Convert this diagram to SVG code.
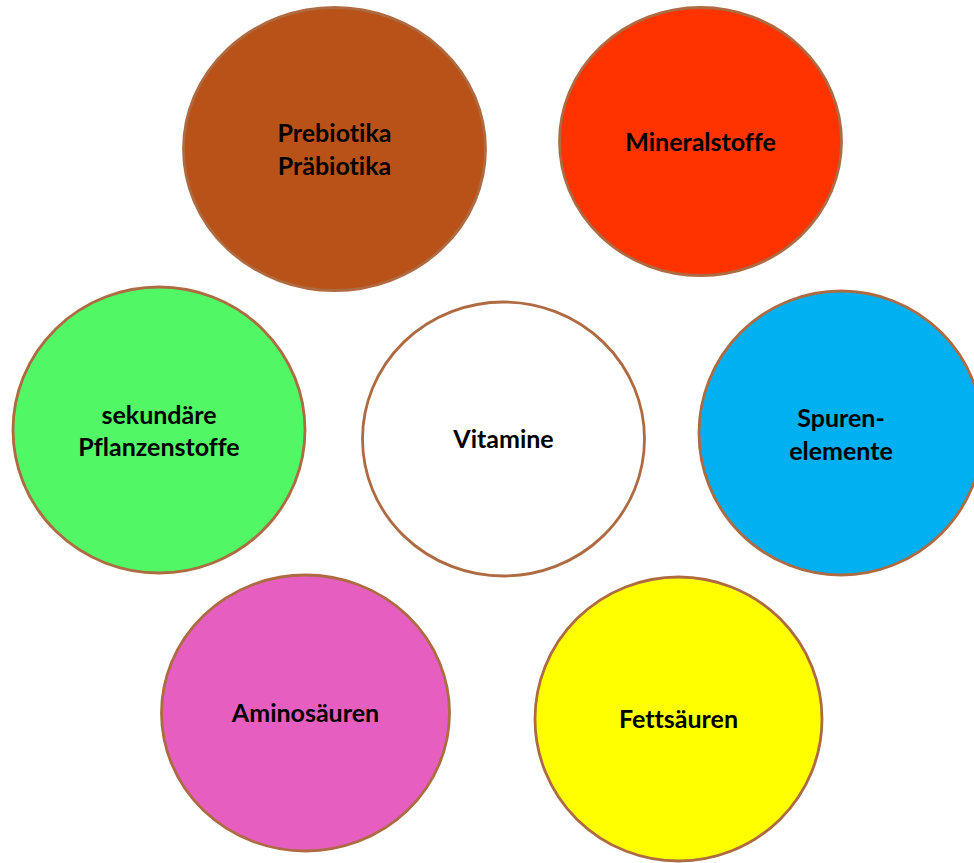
<svg xmlns="http://www.w3.org/2000/svg" width="974" height="863" viewBox="0 0 974 863">
<style>
.n{stroke:#AE6A40;stroke-width:2.8}
.t{font-family:Lato,"Liberation Sans",sans-serif;font-weight:bold;font-size:25px;fill:#000;text-anchor:middle;font-variant-ligatures:none}
</style>
<rect width="974" height="863" fill="#fff"/>
<g id="connectors"></g>
<g id="prebiotika"><ellipse class="n" cx="334.5" cy="149" rx="151" ry="141.5" fill="#B85218"/><text class="t" x="334.5" y="141.5">Prebiotika</text><text class="t" x="334.5" y="175">Präbiotika</text></g>
<g id="mineralstoffe"><ellipse class="n" cx="700.5" cy="141.5" rx="141" ry="134" fill="#FF3300"/><text class="t" x="700.5" y="150.5">Mineralstoffe</text></g>
<g id="sekundaere"><ellipse class="n" cx="159" cy="430" rx="146" ry="143" fill="#52F765"/><text class="t" x="159" y="424">sekundäre</text><text class="t" x="159" y="456">Pflanzenstoffe</text></g>
<g id="vitamine"><ellipse class="n" cx="503.5" cy="439" rx="141" ry="137" fill="#FFFFFF"/><text class="t" x="503.5" y="447.5">Vitamine</text></g>
<g id="spurenelemente"><ellipse class="n" cx="841" cy="433" rx="142" ry="142" fill="#00B0F0"/><text class="t" x="841" y="426.5">Spuren-</text><text class="t" x="841" y="459.5">elemente</text></g>
<g id="aminosaeuren"><ellipse class="n" cx="305.5" cy="713" rx="144" ry="138" fill="#E65FC0"/><text class="t" x="305.5" y="721.5">Aminosäuren</text></g>
<g id="fettsaeuren"><ellipse class="n" cx="678.5" cy="719" rx="143.5" ry="142" fill="#FFFF00"/><text class="t" x="678.5" y="728">Fettsäuren</text></g>
</svg>
